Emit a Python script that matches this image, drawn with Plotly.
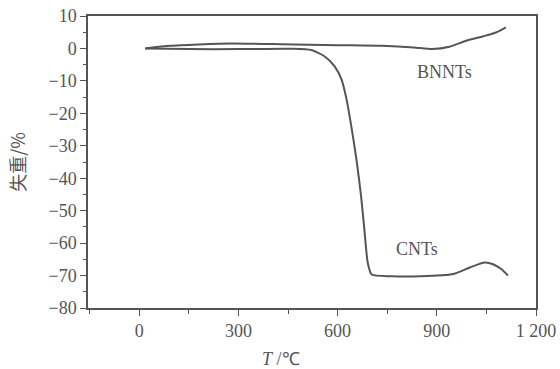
import plotly.graph_objects as go

# BNNTs TGA curve (temperature in °C, weight loss in %)
bnnt_T = [18, 94, 180, 277, 429, 600, 734, 830, 887, 938, 987, 1039, 1079, 1109]
bnnt_w = [0.0, 0.8, 1.2, 1.5, 1.3, 1.0, 0.8, 0.3, -0.2, 0.5, 2.3, 3.7, 4.9, 6.5]

# CNTs TGA curve
cnt_T = [18, 150, 300, 460, 521, 560, 591, 612, 627, 643, 658, 671, 681, 691, 703,
         764, 850, 950, 1000, 1045, 1070, 1095, 1115]
cnt_w = [0.0, -0.2, -0.2, -0.1, -0.5, -2.4, -5.5, -9.6, -15.7, -25, -35, -45.6, -55.9,
         -66, -69.7, -70.2, -70.2, -69.5, -67.5, -66, -66.5, -68, -70]

x_ticks = [0, 300, 600, 900, 1200]
x_tick_labels = ["0", "300", "600", "900", "1 200"]
y_ticks = [10, 0, -10, -20, -30, -40, -50, -60, -70, -80]
y_tick_labels = ["10", "0", "\u221210", "\u221220", "\u221230", "\u221240", "\u221250",
                 "\u221260", "\u221270", "\u221280"]

labels = ["BNNTs", "CNTs"]
label_T = [923, 841]
label_w = [-7.4, -61.8]

ink = "#555555"
serif = "Liberation Serif, Times New Roman, serif"

fig = go.Figure()
fig.add_trace(go.Scatter(x=bnnt_T, y=bnnt_w, mode="lines", line=dict(color=ink, width=2, shape="spline", smoothing=0.6), showlegend=False))
fig.add_trace(go.Scatter(x=cnt_T, y=cnt_w, mode="lines", line=dict(color=ink, width=2, shape="spline", smoothing=0.6), showlegend=False))

for t, x, y in zip(labels, label_T, label_w):
    fig.add_annotation(x=x, y=y, text=t, showarrow=False, font=dict(family=serif, size=18, color=ink))

# x-axis title placed as annotation to match reference position
fig.add_annotation(x=0.43, y=-0.135, xref="paper", yref="paper", yanchor="top", showarrow=False,
                   text="<i>T</i> /\u2103", font=dict(family=serif, size=18, color=ink))

fig.update_layout(
    width=560, height=369,
    margin=dict(l=88, r=24, t=16, b=61),
    paper_bgcolor="white", plot_bgcolor="white",
    font=dict(family=serif, size=18, color=ink),
)
fig.update_xaxes(
    automargin=False,
    range=[-155, 1200], tickvals=x_ticks, ticktext=x_tick_labels,
    showgrid=False, zeroline=False, showline=True, linecolor=ink, linewidth=1.5, mirror=True,
    ticks="outside", ticklen=6, tickcolor=ink, tickwidth=1.2,
    minor=dict(dtick=150, tick0=0, ticks="outside", ticklen=4, tickcolor=ink, tickwidth=1.2, showgrid=False),
)
fig.update_yaxes(
    automargin=False,
    range=[-80, 10], tickvals=y_ticks, ticktext=y_tick_labels,
    showgrid=False, zeroline=False, showline=True, linecolor=ink, linewidth=1.5, mirror=True,
    ticks="outside", ticklen=6, tickcolor=ink, tickwidth=1.2,
    minor=dict(dtick=5, tick0=0, ticks="outside", ticklen=3, tickcolor=ink, tickwidth=1.2, showgrid=False),
    title=dict(text="失重/%", font=dict(family="Noto Sans CJK SC, " + serif, size=18, color=ink), standoff=18),
)

fig.write_html("out.html", config={"displayModeBar": False},
               post_script="document.body.style.margin='0';document.body.style.overflow='hidden';")
